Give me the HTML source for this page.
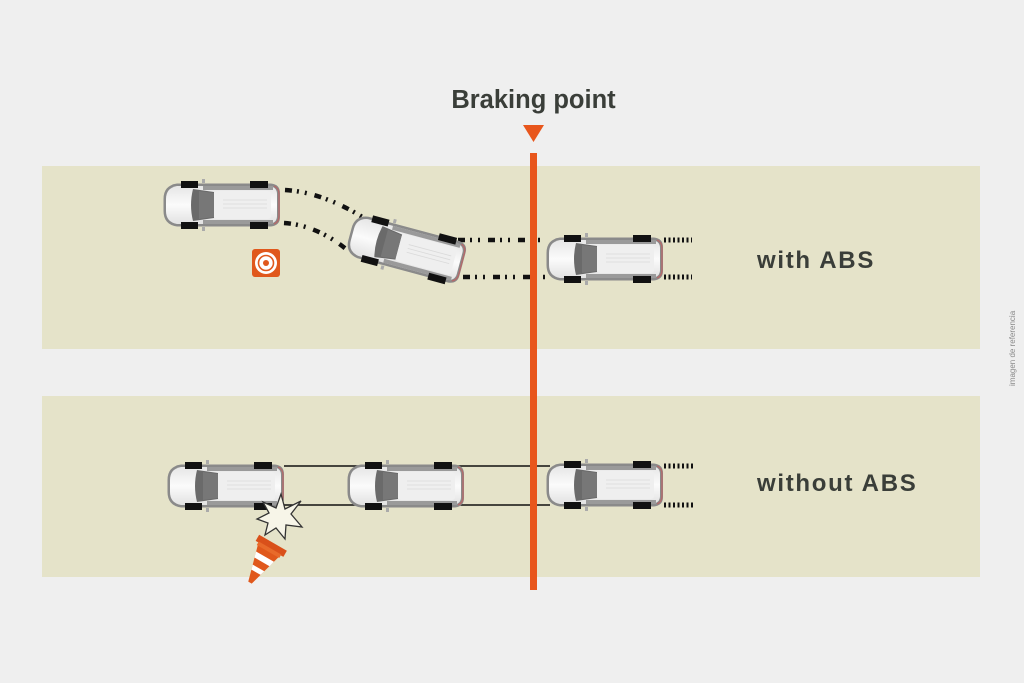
<!DOCTYPE html>
<html><head><meta charset="utf-8">
<style>
html,body{margin:0;padding:0;background:#efefef;}
body{width:1024px;height:683px;overflow:hidden;position:relative;}
svg{position:absolute;left:0;top:0;}
</style></head>
<body>
<svg width="1024" height="683" viewBox="0 0 1024 683" xmlns="http://www.w3.org/2000/svg">
<defs>
  <linearGradient id="bodyg" x1="0" y1="0" x2="0" y2="1">
    <stop offset="0" stop-color="#e6e6e6"/>
    <stop offset="0.5" stop-color="#fbfbfb"/>
    <stop offset="1" stop-color="#e2e2e2"/>
  </linearGradient>
  <g id="car">
    <path d="M14,2.5 L108,2.5 Q117,3.5 117,12 L117,36 Q117,44.5 108,45.5 L14,45.5 Q0.5,43.5 0.5,30 L0.5,18 Q0.5,4.5 14,2.5 Z" fill="#8a8a8a"/>
    <path d="M111,5 Q116,7 116,13 L116,35 Q116,41 111,43" fill="none" stroke="#b46a6a" stroke-width="1.4"/>
    <path d="M14,5 L106,5 Q114,6 114,13 L114,35 Q114,42 106,43 L14,43 Q3,41 3,30 L3,18 Q3,7 14,5Z" fill="url(#bodyg)"/>
    <rect x="40" y="5" width="70" height="4" fill="#9a9a9a"/>
    <rect x="40" y="39" width="70" height="4" fill="#9a9a9a"/>
    <path d="M30,8 L51,11 L51,37 L30,40 Q26,24 30,8Z" fill="#6a6a6a"/>
    <path d="M36,10 L51,12 L51,36 L36,38 Z" fill="#777"/>
    <rect x="51" y="10" width="57" height="28" rx="3" fill="#efefef"/>
    <path d="M60,19 H104 M60,23 H104 M60,27 H104" stroke="#dadada" stroke-width="0.8"/>
    <rect x="39" y="-2" width="3" height="4" fill="#aaa"/>
    <rect x="39" y="46" width="3" height="4" fill="#aaa"/>
    <rect x="18" y="0" width="17" height="7" fill="#111"/>
    <rect x="18" y="41" width="17" height="7" fill="#111"/>
    <rect x="87" y="0" width="18" height="7" fill="#111"/>
    <rect x="87" y="41" width="18" height="7" fill="#111"/>
  </g>
</defs>

<!-- bands -->
<rect x="42" y="166" width="938" height="183" fill="#e5e3c9"/>
<rect x="42" y="396" width="938" height="181" fill="#e5e3c9"/>

<!-- top row tracks -->
<g fill="none" stroke="#111" stroke-width="4.5" stroke-dasharray="7 5 2 6 2 8">
  <path d="M285,190 Q322,192 364,218"/>
  <path d="M284,223 Q316,225 346,249"/>
  <path d="M458,240 L548,240"/>
  <path d="M463,277 L548,277"/>
</g>
<g fill="none" stroke="#111" stroke-width="5" stroke-dasharray="2 2.5">
  <path d="M664,240 L692,240"/>
  <path d="M664,277 L692,277"/>
  <path d="M664,466 L694,466"/>
  <path d="M664,505 L694,505"/>
</g>

<!-- bottom row solid tracks -->
<g stroke="#111" stroke-width="1.6">
  <line x1="284" y1="466" x2="550" y2="466"/>
  <line x1="284" y1="505" x2="550" y2="505"/>
</g>

<!-- cars -->
<use href="#car" x="163" y="181"/>
<g transform="translate(406,249) rotate(15) translate(-58.5,-24)"><use href="#car"/></g>
<use href="#car" x="546" y="235"/>
<use href="#car" x="167" y="462"/>
<use href="#car" x="347" y="462"/>
<use href="#car" x="546" y="461"/>

<!-- target -->
<rect x="252" y="249" width="28" height="28" rx="3" fill="#e0581c"/>
<circle cx="266" cy="263" r="11" fill="#fff"/>
<circle cx="266" cy="263" r="7.5" fill="none" stroke="#e0581c" stroke-width="1.6"/>
<circle cx="266" cy="263" r="3" fill="#e0581c"/>

<!-- starburst -->
<polygon points="301,501 291,514 302,527 286,525 285,539 276,528 265,535 268,523 257,519 269,513 263,502 276,508 281,494 285,509" fill="#f7f5e8" stroke="#333" stroke-width="1.3" stroke-linejoin="miter"/>

<!-- cone -->
<g transform="translate(270,548) rotate(210)">
  <polygon points="-13,0 13,0 2,-40 -2,-40" fill="#e0581c"/>
  <polygon points="-10.3,-10 10.3,-10 8.7,-16 -8.7,-16" fill="#fff"/>
  <polygon points="-6.7,-23 6.7,-23 5.3,-28 -5.3,-28" fill="#fff"/>
  <rect x="-16" y="-1" width="32" height="7" fill="#d9501a"/>
  <rect x="-13" y="-4" width="26" height="4" fill="#e86a2a"/>
</g>

<!-- braking line -->
<rect x="530" y="153" width="7" height="437" fill="#e8561c"/>
<polygon points="523,125 544,125 533.5,142" fill="#e8561c"/>

<!-- text -->
<text x="533.5" y="108" text-anchor="middle" font-family="Liberation Sans, Arial, sans-serif" font-weight="bold" font-size="25.5" fill="#3a3e39">Braking point</text>
<text x="757" y="268" font-family="Liberation Sans, Arial, sans-serif" font-weight="bold" font-size="24" letter-spacing="1.7" fill="#3a3e39">with ABS</text>
<text x="757" y="491" font-family="Liberation Sans, Arial, sans-serif" font-weight="bold" font-size="24" letter-spacing="1.7" fill="#3a3e39">without ABS</text>
<text transform="translate(1015,386) rotate(-90)" font-family="Liberation Sans, Arial, sans-serif" font-size="8" fill="#8a8a8a">imagen de referencia</text>
</svg>
</body></html>
